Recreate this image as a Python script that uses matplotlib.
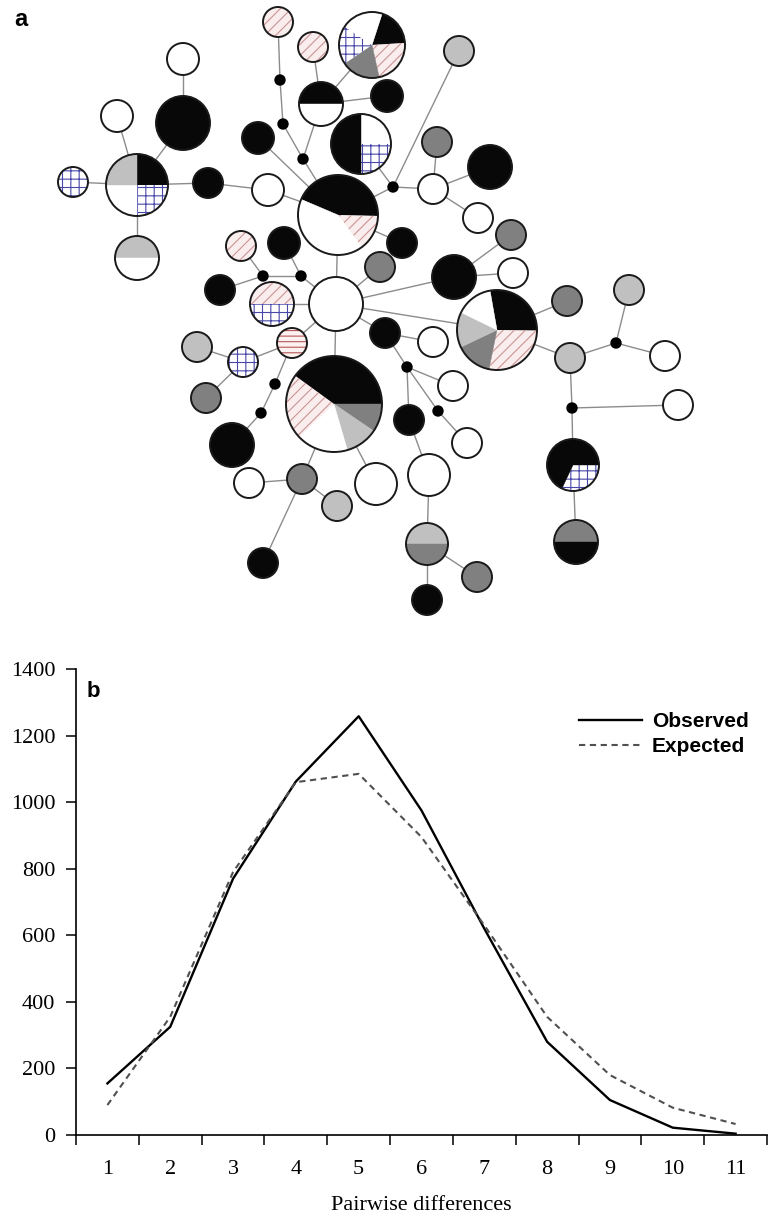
import numpy as np
import matplotlib.pyplot as plt
from matplotlib.patches import Circle, Polygon

# ---- panel b: mismatch distribution ----
pairwise_diff = list(range(1, 12))
observed = [155, 325, 770, 1062, 1258, 975, 620, 280, 105, 22, 4]
expected = [90, 355, 790, 1060, 1085, 895, 630, 355, 180, 82, 33]

# ---- panel a: haplotype network ----
# share of each population group in every haplotype (clockwise), 'dot' = missing vector
hap_parts = [
    [('pk', 1)], [('pk', 1)],
    [('k', .19), ('pk', .225), ('dg', .19), ('bl', .19), ('w', .205)],
    'dot', 'dot', 'dot',
    [('k', .5), ('w', .5)], [('k', 1)],
    [('w', .25), ('bl', .25), ('k', .5)], [('k', 1)],
    [('k', .44), ('pk', .145), ('w', .415)], [('k', 1)], [('w', 1)],
    [('k', .25), ('bl', .25), ('w', .25), ('lg', .25)],
    [('bl', 1)], [('k', 1)], [('w', 1)], [('w', 1)],
    [('lg', .5), ('w', .5)], [('pk', 1)], [('k', 1)],
    'dot', 'dot', [('k', 1)],
    [('pk', .5), ('bl', .5)], [('w', 1)], [('dg', 1)], [('k', 1)], [('k', 1)],
    [('rh', 1)], [('bl', 1)], [('lg', 1)], [('dg', 1)],
    'dot', 'dot', [('k', 1)],
    [('k', .4), ('dg', .095), ('lg', .11), ('w', .175), ('pk', .22)],
    [('dg', 1)], [('w', 1)], [('lg', 1)], [('w', 1)], [('k', 1)], [('lg', 1)],
    'dot', [('dg', 1)], [('w', 1)], [('k', 1)], [('w', 1)], [('dg', 1)], [('w', 1)],
    [('k', 1)],
    [('k', .28), ('pk', .28), ('dg', .147), ('lg', .143), ('w', .15)],
    [('w', 1)], 'dot', [('w', 1)], [('k', 1)], 'dot', [('w', 1)], [('w', 1)],
    [('lg', .5), ('dg', .5)], [('dg', 1)], [('k', 1)], [('dg', 1)], [('lg', 1)],
    [('lg', 1)], 'dot', [('w', 1)], 'dot', [('w', 1)],
    [('bl', .32), ('k', .68)], [('dg', .5), ('k', .5)],
]

# links between haplotypes (1-based)
hap_links = [(1, 4), (4, 5), (5, 6), (6, 11), (2, 7), (7, 3), (7, 8), (7, 6), (10, 11),
             (9, 44), (44, 11), (44, 43), (44, 46), (46, 45), (46, 47), (46, 48),
             (11, 13), (13, 12), (12, 14), (14, 15), (14, 16), (14, 18), (14, 19), (16, 17),
             (11, 26), (11, 28), (26, 27), (26, 25), (26, 23), (23, 22), (22, 20), (22, 24),
             (23, 21), (26, 30), (30, 31), (31, 32), (31, 33), (30, 34), (34, 35), (35, 36),
             (26, 37), (26, 29), (26, 51), (26, 52), (37, 38), (38, 39), (38, 40), (38, 42),
             (37, 41), (29, 53), (29, 54), (54, 55), (54, 56), (54, 57), (57, 58), (56, 59),
             (59, 60), (60, 61), (60, 62), (51, 49), (51, 50), (52, 63), (52, 64), (64, 66),
             (66, 65), (66, 67), (64, 68), (68, 69), (68, 70), (70, 71)]

# layout (pixels of the drawing), radius, first wedge angle
node_xy = [
    (278, 22), (313, 47), (372, 45), (280, 80), (283, 124), (303, 159), (321, 104), (387, 96), (361, 144), (258, 138),
    (338, 215), (208, 183), (268, 190), (137, 185), (73, 182), (183, 123), (183, 59), (117, 116), (137, 258), (241, 246),
    (284, 243), (263, 276), (301, 276), (220, 290), (272, 304), (336, 304), (380, 267), (402, 243), (385, 333), (292, 343),
    (243, 362), (197, 347), (206, 398), (275, 384), (261, 413), (232, 445), (334, 404), (302, 479), (249, 483), (337, 506),
    (376, 484), (263, 563), (459, 51), (393, 187), (437, 142), (433, 189), (490, 167), (478, 218), (511, 235), (513, 273),
    (454, 277), (497, 330), (433, 342), (407, 367), (453, 386), (409, 420), (438, 411), (467, 443), (429, 475), (427, 544),
    (477, 577), (427, 600), (567, 301), (570, 358), (629, 290), (616, 343), (665, 356), (572, 408), (678, 405), (573, 465),
    (576, 542)]
node_r = [15, 15, 33, 5, 5, 5, 22, 16, 30, 16,
          40, 15, 16, 31, 15, 27, 16, 16, 22, 15,
          16, 5, 5, 15, 22, 27, 15, 15, 15, 15,
          15, 15, 15, 5, 5, 22, 48, 15, 15, 15,
          21, 15, 15, 5, 15, 15, 22, 15, 15, 15,
          22, 40, 15, 5, 15, 15, 5, 15, 21, 21,
          15, 15, 15, 15, 15, 5, 15, 5, 15, 26,
          22]
node_start = {3: 72, 7: 180, 9: 90, 11: 157, 14: 90, 19: 180, 25: 180,
              37: 144, 52: 100, 60: 180, 70: 0, 71: 180}

fills = {
    'k': dict(facecolor='#080808', edgecolor='#080808', linewidth=0.3),
    'w': dict(facecolor='white', edgecolor='white', linewidth=0.3),
    'lg': dict(facecolor='#c0c0c0', edgecolor='#c0c0c0', linewidth=0.3),
    'dg': dict(facecolor='#808080', edgecolor='#808080', linewidth=0.3),
    'pk': dict(facecolor='#f9eded', edgecolor='#cc9494', hatch='///', linewidth=0),
    'bl': dict(facecolor='white', edgecolor='#4848a8', hatch='++', linewidth=0),
    'rh': dict(facecolor='#fbf1f1', edgecolor='#b85555', hatch='---', linewidth=0),
}

plt.rcParams['hatch.linewidth'] = 0.8
fig = plt.figure(figsize=(7.72, 12.18), dpi=100)

axn = fig.add_axes([0, 1 - 620 / 1218, 1, 620 / 1218])
axn.set_xlim(0, 772)
axn.set_ylim(620, 0)
axn.axis('off')

for a, b in hap_links:
    (x1, y1), (x2, y2) = node_xy[a - 1], node_xy[b - 1]
    axn.plot([x1, x2], [y1, y2], color='#8c8c8c', lw=1.0, zorder=1)

for i, parts in enumerate(hap_parts):
    x, y = node_xy[i]
    r = node_r[i]
    if parts == 'dot':
        axn.add_patch(Circle((x, y), r, facecolor='black', edgecolor='black', zorder=3))
        continue
    a0 = node_start.get(i + 1, 90)
    for kind, frac in parts:
        a1 = a0 - frac * 360
        th = np.radians(np.linspace(a0, a1, 80))
        pts = np.column_stack([x + r * np.cos(th), y - r * np.sin(th)])
        if frac < 1:
            pts = np.vstack([[x, y], pts])
        axn.add_patch(Polygon(pts, closed=True, zorder=2, **fills[kind]))
        a0 = a1
    axn.add_patch(Circle((x, y), r, fill=False, edgecolor='#1a1a1a', lw=1.4, zorder=3))

axn.text(14, 19, 'a', fontsize=17, fontweight='bold', family='Liberation Sans', va='center')

# ---- panel b ----
axb = fig.add_axes([76 / 772, 83 / 1218, 691 / 772, 466 / 1218])
axb.plot(pairwise_diff, observed, color='black', lw=1.7, label='Observed')
axb.plot(pairwise_diff, expected, color='#505050', lw=1.5, ls=(0, (3, 2.2)), label='Expected')
axb.set_xlim(0.5, 11.5)
axb.set_ylim(0, 1400)
axb.set_yticks(range(0, 1401, 200))
axb.set_xticks(np.arange(0.5, 11.6, 1))
axb.set_xticklabels([])
axb.set_xticks(pairwise_diff, minor=True)
axb.set_xticklabels([str(v) for v in pairwise_diff], minor=True)
axb.tick_params(axis='x', which='major', direction='out', length=7, width=1.1)
axb.tick_params(axis='x', which='minor', length=0, pad=18, labelsize=16)
axb.tick_params(axis='y', direction='out', length=7, width=1.1, pad=8, labelsize=16)
for lab in axb.get_xticklabels(minor=True) + axb.get_yticklabels():
    lab.set_family('Liberation Serif')
for s in ['top', 'right']:
    axb.spines[s].set_visible(False)
for s in ['left', 'bottom']:
    axb.spines[s].set_linewidth(1.2)
axb.set_xlabel('Pairwise differences', family='Liberation Serif', fontsize=16, labelpad=12)
axb.text(0.016, 0.951, 'b', transform=axb.transAxes, fontsize=16, fontweight='bold',
         family='Liberation Sans', va='center', ha='left')
leg = axb.legend(frameon=False, loc='upper left', bbox_to_anchor=(0.728, 0.908), borderpad=0,
                 borderaxespad=0, handlelength=3.0, handletextpad=0.5, labelspacing=0.3,
                 prop=dict(family='Liberation Sans', weight='bold', size=15))

fig.savefig('out.png', dpi=100)
